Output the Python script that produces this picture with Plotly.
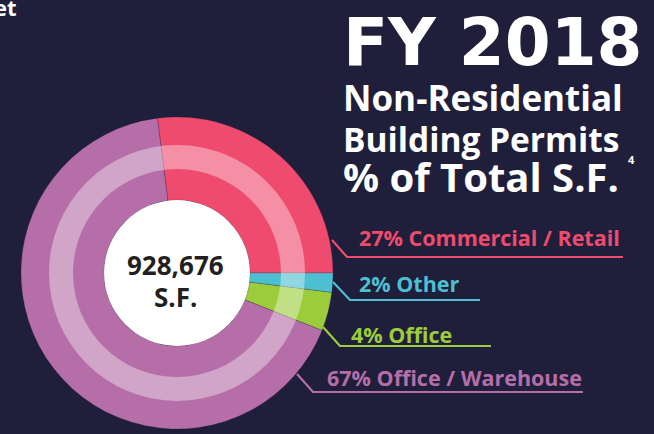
import plotly.graph_objects as go

W, H = 654, 434

categories = ["Commercial / Retail", "Other", "Office", "Office / Warehouse"]
percents = [27, 2, 4, 67]
colors = ["#ef4b6e", "#4dbfd0", "#9ccb3b", "#b56ea7"]
total_sf = "928,676"
title_lines = ["FY 2018", "Non-Residential", "Building Permits", "% of Total S.F."]

BG = "#1f1e3b"
FONT = "Open Sans"

CX, CY = 177, 273
R_OUT, R_HOLE = 156, 73
R_BAND_OUT, R_BAND_IN = 128, 104


def px(x):
    return x / W


def py(y):
    return 1 - y / H


def domain(r):
    return dict(x=[px(CX - r), px(CX + r)], y=[py(CY + r), py(CY - r)])


# rotation so that the first slice ends exactly at 3 o'clock
rotation = 90 - percents[0] * 3.6

fig = go.Figure()
fig.add_trace(go.Pie(
    labels=categories, values=percents, sort=False, direction="clockwise",
    rotation=rotation, hole=R_HOLE / R_OUT, domain=domain(R_OUT),
    marker=dict(colors=colors, line=dict(color="rgba(31,30,59,0.35)", width=0.6)),
    textinfo="none", hoverinfo="label+percent", showlegend=False,
))
fig.add_trace(go.Pie(
    values=[1], sort=False, hole=R_BAND_IN / R_BAND_OUT, domain=domain(R_BAND_OUT),
    marker=dict(colors=["rgba(255,255,255,0.38)"], line=dict(width=0)),
    textinfo="none", hoverinfo="skip", showlegend=False,
))
fig.add_trace(go.Pie(
    values=[1], sort=False, domain=domain(R_HOLE),
    marker=dict(colors=["#ffffff"], line=dict(width=0)),
    textinfo="none", hoverinfo="skip", showlegend=False,
))

ann = []
# center text
for txt, ymid in [(total_sf, 265), ("S.F.", 297)]:
    ann.append(dict(x=px(176), y=py(ymid), xref="paper", yref="paper",
                    text=f"<b>{txt}</b>", showarrow=False,
                    font=dict(family=FONT, size=26, color="#231f20"),
                    xanchor="center", yanchor="middle", align="center"))

# title block
title_specs = [(title_lines[0], "DejaVu Sans", 66, 43), (title_lines[1], FONT, 35, 97.5),
               (title_lines[2], FONT, 33.5, 138.5), (title_lines[3], FONT, 40, 176.5)]
for txt, fam, size, ymid in title_specs:
    ann.append(dict(x=px(341), y=py(ymid), xref="paper", yref="paper",
                    text=f"<b>{txt}</b>", showarrow=False,
                    font=dict(family=fam, size=size, color="#ffffff"),
                    xanchor="left", yanchor="middle"))
ann.append(dict(x=px(631), y=py(160), xref="paper", yref="paper",
                text="<b>4</b>", showarrow=False,
                font=dict(family=FONT, size=11, color="#ffffff"),
                xanchor="center", yanchor="middle"))
# partial top-left word
ann.append(dict(x=px(19), y=py(7), xref="paper", yref="paper",
                text="<b>et</b>", showarrow=False,
                font=dict(family=FONT, size=22, color="#ffffff"),
                xanchor="right", yanchor="middle"))

# labels with leader lines: (text x, text y mid, leader start, elbow, underline end)
label_specs = [
    (357, 238, (332, 240), (347, 257), 623),
    (357, 283, (333, 282), (350, 300), 480),
    (349, 334, (323, 327), (340, 346), 491),
    (325, 377, (297, 374), (313, 392), 583),
]
shapes = []
for i, (tx, ty, p0, p1, xend) in enumerate(label_specs):
    ann.append(dict(x=px(tx), y=py(ty), xref="paper", yref="paper",
                    text=f"<b>{percents[i]}% {categories[i]}</b>", showarrow=False,
                    font=dict(family=FONT, size=21.5, color=colors[i]),
                    xanchor="left", yanchor="middle"))
    shapes.append(dict(type="path", xref="paper", yref="paper",
                       path=f"M {px(p0[0])} {py(p0[1])} L {px(p1[0])} {py(p1[1])} L {px(xend)} {py(p1[1])}",
                       line=dict(color=colors[i], width=2.2)))

fig.update_layout(
    width=W, height=H, margin=dict(l=0, r=0, t=0, b=0),
    paper_bgcolor=BG, plot_bgcolor=BG,
    annotations=ann, shapes=shapes, showlegend=False,
)

fig.write_html("out.html", config={"displayModeBar": False},
               post_script="document.body.style.margin='0';"
                           "document.body.style.backgroundColor='#1f1e3b';")
